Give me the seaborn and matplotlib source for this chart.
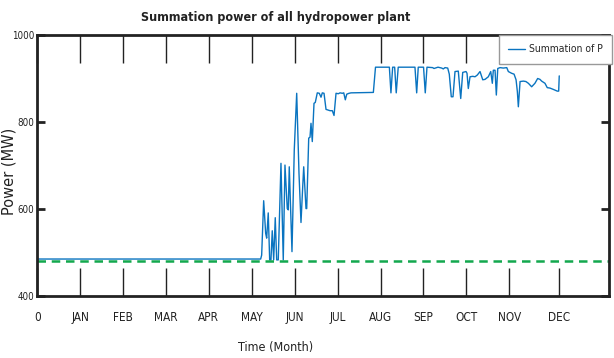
import matplotlib
matplotlib.use("Agg")
import matplotlib.pyplot as plt
import seaborn as sns
import pandas as pd

# Daily total output of all hydropower plants (day of year, MW)
day = [0, 156.2, 156.9, 158.3, 159.7, 160.4, 161.5, 162.5, 163.4, 164.3, 165.3,
       166.4, 167.4, 168.5, 170.4, 172.0, 173.2, 174.8, 175.5, 176.2, 178.1,
       179.7, 181.4, 183.0, 184.4, 185.6, 186.3, 187.9, 188.4, 189.8, 190.7,
       191.4, 192.3, 193.5, 194.4, 195.8, 197.2, 198.4, 199.3, 200.5, 201.9,
       204.7, 206.3, 207.5, 208.9, 210.5, 211.7, 213.3, 214.3, 215.4, 216.4,
       218.0, 219.4, 235.0, 236.5, 246.2, 247.3, 248.5, 249.9, 251.0, 252.4,
       264.1, 265.3, 266.4, 270.1, 271.3, 272.5, 276.5, 277.4, 280.2, 282.8,
       283.9, 285.1, 287.0, 288.1, 289.5, 290.7, 292.1, 294.4, 296.1, 297.5,
       299.8, 300.5, 301.4, 302.6, 304.5, 306.1, 307.7, 309.6, 311.5, 313.1,
       315.4, 317.1, 318.2, 318.9, 320.1, 321.0, 322.0, 323.6, 325.9, 328.3,
       329.4, 331.7, 333.4, 334.8, 335.7, 336.4, 337.6, 339.9, 341.7, 343.4,
       345.7, 348.0, 349.9, 351.5, 352.7, 355.0, 356.6, 358.5, 360.8, 363.6,
       364.6, 365.0]
power = [485, 485, 494, 619, 544, 533, 591, 483, 483, 550, 483,
         580, 483, 483, 705, 483, 701, 601, 598, 697, 502,
         736, 866, 682, 569, 651, 697, 601, 601, 763, 765,
         797, 755, 843, 845, 867, 866, 857, 867, 866, 829,
         826, 826, 815, 866, 865, 867, 866, 867, 851, 864,
         866, 867, 868, 926, 926, 867, 926, 926, 867, 926,
         926, 867, 926, 926, 867, 926, 925, 923, 926, 924,
         922, 925, 924, 910, 858, 858, 916, 917, 854, 914,
         916, 912, 877, 904, 905, 904, 908, 916, 897, 898,
         904, 916, 889, 919, 919, 862, 923, 925, 924, 925,
         916, 912, 910, 897, 870, 835, 893, 894, 893, 889,
         881, 889, 900, 898, 894, 889, 879, 878, 875, 871,
         871, 906]

min_output = 480  # dashed reference level (MW)

month_ticks = [0, 30, 60, 90, 120, 150, 180, 210, 240, 270, 300, 330, 365]
month_labels = ["0", "JAN", "FEB", "MAR", "APR", "MAY", "JUN", "JUL", "AUG",
                "SEP", "OCT", "NOV", "DEC"]
power_ticks = [400, 600, 800, 1000]

sns.set_style("white")
plt.rcParams["font.family"] = ["DejaVu Sans"]
plt.rcParams["font.stretch"] = "condensed"

df = pd.DataFrame({"day": day, "power": power})

W, H = 614, 358
fig = plt.figure(figsize=(W / 100, H / 100), dpi=100)
ax = fig.add_axes([37.3 / W, 62 / H, 572 / W, 261 / H])

sns.lineplot(data=df, x="day", y="power", ax=ax, color="#0A74C0",
             linewidth=1.0, label="Summation of P", estimator=None, sort=False)
ax.axhline(min_output, color="#13A84E", linestyle=(0, (3.4, 2.3)), linewidth=1.8)

ax.set_xlim(0, 400)
ax.set_ylim(400, 1000)
ax.set_xticks(month_ticks)
ax.set_xticklabels(month_labels)
ax.set_yticks(power_ticks)
ax.set_xlabel("")
ax.set_ylabel("")

for s in ax.spines.values():
    s.set_linewidth(2)
    s.set_color("#222222")
ax.tick_params(axis="x", direction="in", length=20, width=1, color="#222222",
               top=True, bottom=True, labelsize=8.5, pad=11, labelcolor="#222222")
ax.tick_params(axis="y", direction="in", length=6, width=2, color="#222222",
               left=True, right=True, labelsize=7, pad=2, labelcolor="#222222")

leg = ax.legend(loc="upper right", bbox_to_anchor=(612 / W, 1 - 35 / H),
                bbox_transform=fig.transFigure, frameon=True, fancybox=False,
                framealpha=1, fontsize=7.5, handlelength=1.6, borderpad=0.9,
                handletextpad=0.4, borderaxespad=0)
leg.get_frame().set_edgecolor("#999999")
leg.get_frame().set_linewidth(1)
leg.set_zorder(10)

fig.text(276 / W, 1 - 17 / H, "Summation power of all hydropower plant",
         ha="center", va="center", fontsize=9, fontweight="bold", color="#222222")
fig.text(276 / W, 1 - 347 / H, "Time (Month)", ha="center", va="center",
         fontsize=9, color="#222222")
fig.text(9 / W, 1 - 171 / H, "Power (MW)", ha="center", va="center",
         rotation=90, fontsize=10.5, color="#222222", fontstretch="normal")

fig.savefig("out.png", dpi=100)
